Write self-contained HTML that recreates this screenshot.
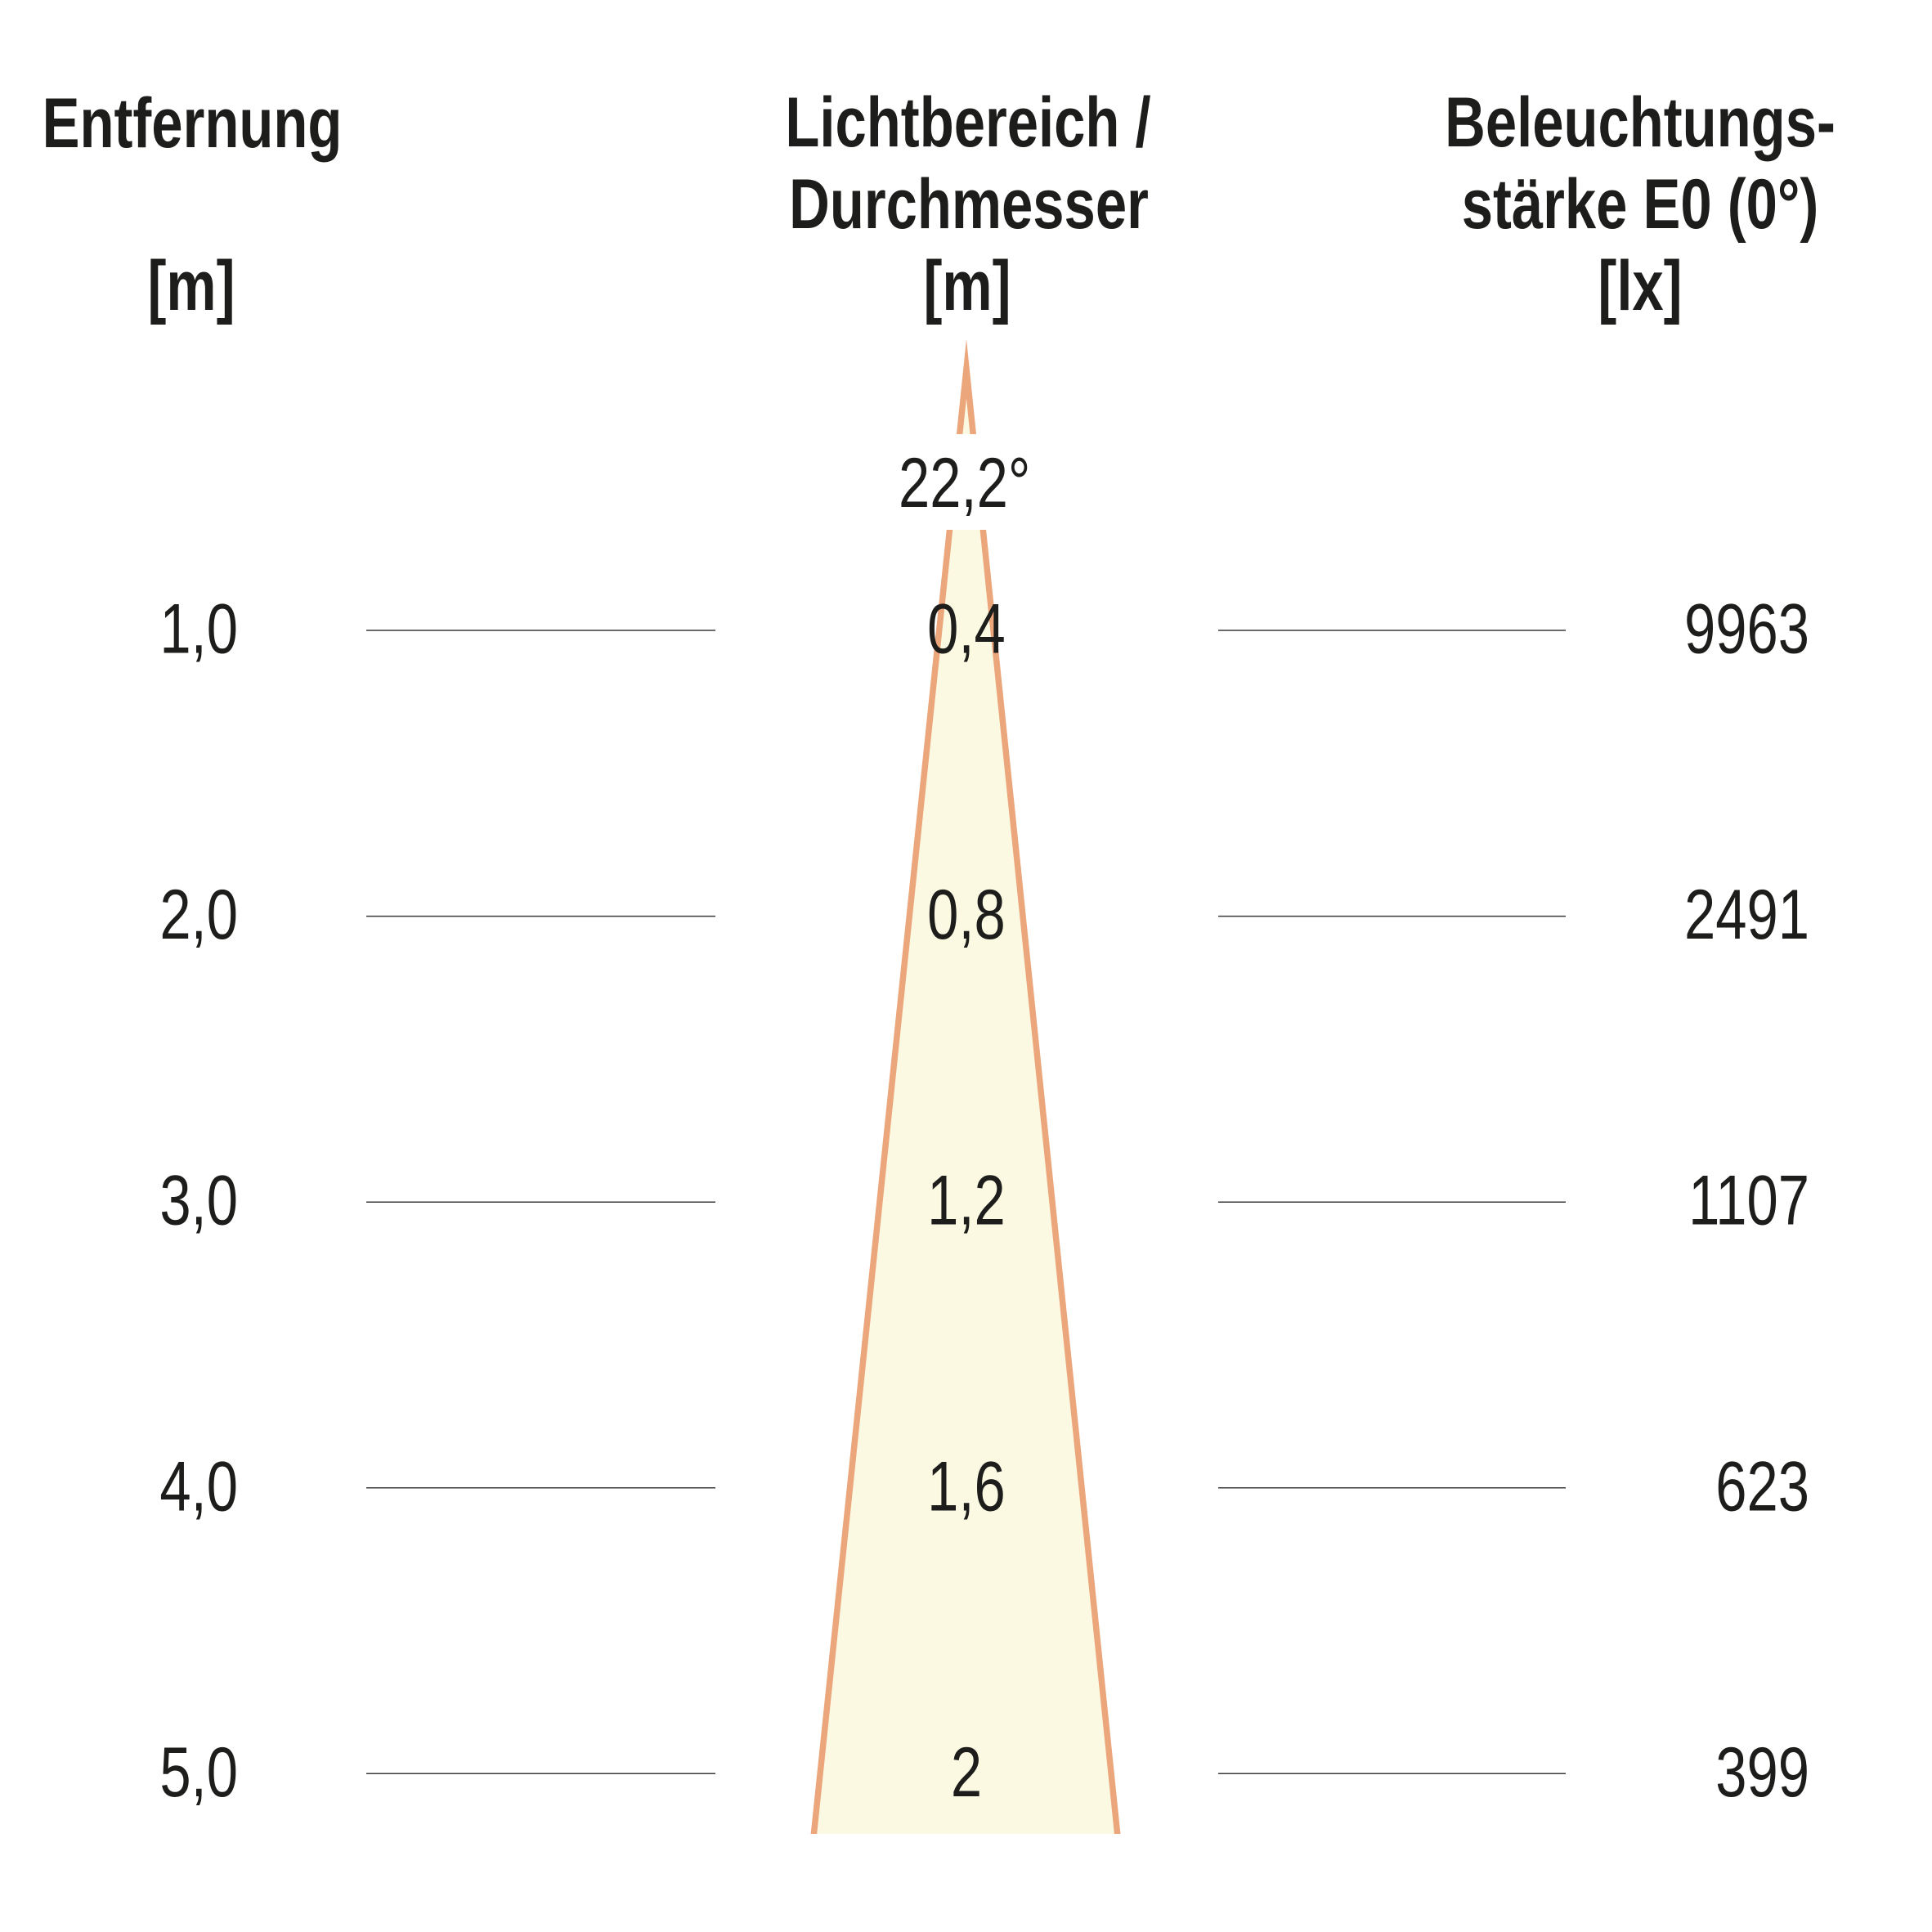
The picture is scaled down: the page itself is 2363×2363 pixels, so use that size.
<!DOCTYPE html>
<html>
<head>
<meta charset="utf-8">
<style>
html,body{margin:0;padding:0;background:#fff;}
svg{display:block;}
text{font-family:"Liberation Sans",sans-serif;font-size:86px;fill:#1d1d1b;}
.b{font-weight:bold;}
</style>
</head>
<body>
<svg width="2363" height="2363" viewBox="0 0 2363 2363" xmlns="http://www.w3.org/2000/svg">
<defs>
<clipPath id="cp"><rect x="0" y="0" width="2363" height="2243"/></clipPath>
</defs>
<rect width="2363" height="2363" fill="#fff"/>

<!-- cone -->
<g clip-path="url(#cp)">
<path d="M995.5,2243 L1182,451 L1366.5,2243 Z" fill="#fcf9e3" stroke="none"/>
<path d="M985,2343 L1182,451 L1377,2343" fill="none" stroke="#eba67c" stroke-width="7.5" stroke-linejoin="miter" stroke-miterlimit="20"/>
</g>
<rect x="1080" y="531" width="200" height="117" fill="#fff"/>

<!-- headers -->
<text class="b" text-anchor="middle" transform="translate(235,180) scale(0.8,1)">Entfernung</text>
<text class="b" text-anchor="middle" transform="translate(234,379) scale(0.8,1)">[m]</text>

<text class="b" text-anchor="middle" transform="translate(1184,179) scale(0.8,1)">Lichtbereich /</text>
<text class="b" text-anchor="middle" transform="translate(1185,279) scale(0.8,1)">Durchmesser</text>
<text class="b" text-anchor="middle" transform="translate(1183,379) scale(0.8,1)">[m]</text>

<text class="b" text-anchor="middle" transform="translate(2006,179) scale(0.8,1)">Beleuchtungs-</text>
<text class="b" text-anchor="middle" transform="translate(2006,279) scale(0.8,1)">stärke E0 (0°)</text>
<text class="b" text-anchor="middle" transform="translate(2006,379) scale(0.8,1)">[lx]</text>

<!-- angle label -->
<text text-anchor="start" transform="translate(1099,620) scale(0.8,1)">22,2°</text>

<!-- rows -->
<g stroke="#3a3a3a" stroke-width="1.5">
<line x1="448" y1="771" x2="875" y2="771"/>
<line x1="1490" y1="771" x2="1915" y2="771"/>
<line x1="448" y1="1120.6" x2="875" y2="1120.6"/>
<line x1="1490" y1="1120.6" x2="1915" y2="1120.6"/>
<line x1="448" y1="1470.2" x2="875" y2="1470.2"/>
<line x1="1490" y1="1470.2" x2="1915" y2="1470.2"/>
<line x1="448" y1="1819.8" x2="875" y2="1819.8"/>
<line x1="1490" y1="1819.8" x2="1915" y2="1819.8"/>
<line x1="448" y1="2169.3" x2="875" y2="2169.3"/>
<line x1="1490" y1="2169.3" x2="1915" y2="2169.3"/>
</g>

<text text-anchor="end" transform="translate(291,798.5) scale(0.8,1)">1,0</text>
<text text-anchor="middle" transform="translate(1182,798.5) scale(0.8,1)">0,4</text>
<text text-anchor="end" transform="translate(2213,798.5) scale(0.8,1)">9963</text>

<text text-anchor="end" transform="translate(291,1148) scale(0.8,1)">2,0</text>
<text text-anchor="middle" transform="translate(1182,1148) scale(0.8,1)">0,8</text>
<text text-anchor="end" transform="translate(2213,1148) scale(0.8,1)">2491</text>

<text text-anchor="end" transform="translate(291,1497.7) scale(0.8,1)">3,0</text>
<text text-anchor="middle" transform="translate(1182,1497.7) scale(0.8,1)">1,2</text>
<text text-anchor="end" transform="translate(2213,1497.7) scale(0.8,1)">1107</text>

<text text-anchor="end" transform="translate(291,1847.3) scale(0.8,1)">4,0</text>
<text text-anchor="middle" transform="translate(1182,1847.3) scale(0.8,1)">1,6</text>
<text text-anchor="end" transform="translate(2213,1847.3) scale(0.8,1)">623</text>

<text text-anchor="end" transform="translate(291,2196.8) scale(0.8,1)">5,0</text>
<text text-anchor="middle" transform="translate(1182,2196.8) scale(0.8,1)">2</text>
<text text-anchor="end" transform="translate(2213,2196.8) scale(0.8,1)">399</text>
</svg>
</body>
</html>
